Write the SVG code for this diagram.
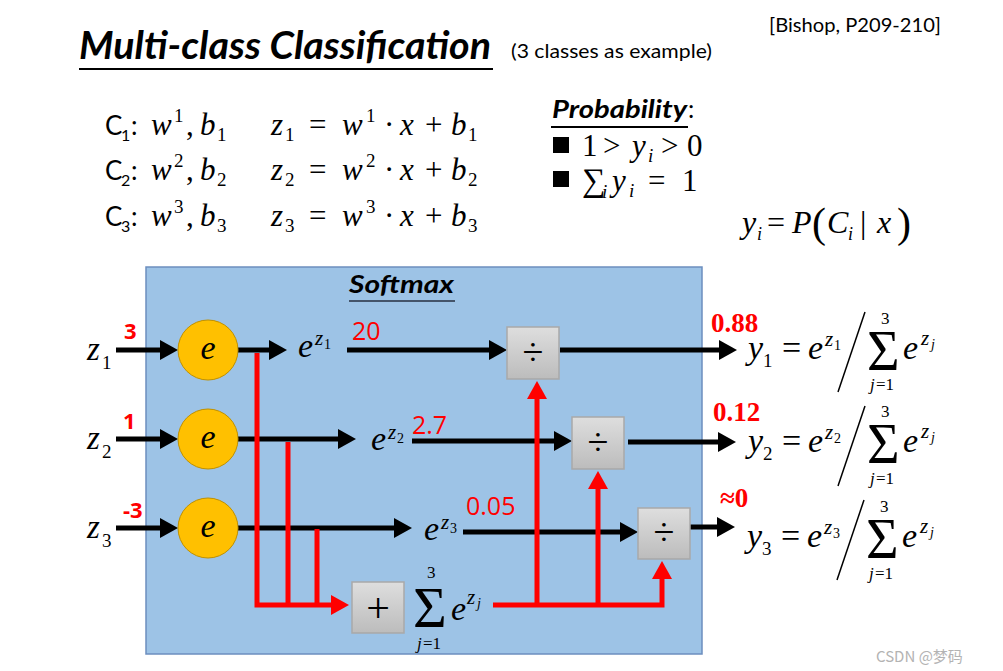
<svg xmlns="http://www.w3.org/2000/svg" width="1003" height="671" viewBox="0 0 1003 671">
<defs>
<style>
.blk{stroke:#000;stroke-width:5;fill:none}
.red{stroke:#f00;stroke-width:5;fill:none;stroke-linejoin:miter}
.ba{marker-end:url(#ab)}
.ra{marker-end:url(#ar)}
.circ{fill:#ffc000;stroke:#bf9000;stroke-width:1}
.box{fill:url(#gb);stroke:#a9a9a9;stroke-width:1.5}
.mi{font-family:"Liberation Serif","Times New Roman",serif;font-style:italic;fill:#000}
.mr{font-family:"Liberation Serif","Times New Roman",serif;font-style:normal;fill:#000}
.cal{font-family:Lato,"Open Sans",sans-serif;fill:#000}
.rn{font-family:"Open Sans",sans-serif;fill:#f00}
.rb{font-family:"Liberation Serif",serif;font-weight:bold;fill:#f00}
.sum{font-family:"Liberation Serif","DejaVu Serif",serif;fill:#000}
</style>
<marker id="ab" markerUnits="userSpaceOnUse" markerWidth="18" markerHeight="20" refX="4" refY="10" orient="auto"><path d="M0,0 L18,10 L0,20 z" fill="#000"/></marker>
<marker id="ar" markerUnits="userSpaceOnUse" markerWidth="18" markerHeight="20" refX="4" refY="10" orient="auto"><path d="M0,0 L18,10 L0,20 z" fill="#f00"/></marker>
<linearGradient id="gb" x1="0" y1="0" x2="0" y2="1"><stop offset="0" stop-color="#dedede"/><stop offset="1" stop-color="#bcbcbc"/></linearGradient>
</defs>
<rect width="1003" height="671" fill="#fff"/>

<!-- header -->
<g id="title">
<text class="cal" x="79" y="59" font-size="39" font-weight="bold" font-style="italic" textLength="412" lengthAdjust="spacingAndGlyphs">Multi-class Classification</text>
<line x1="79" y1="69" x2="493" y2="69" stroke="#000" stroke-width="2"/>
<text class="cal" x="511" y="58" font-size="19" textLength="201" lengthAdjust="spacingAndGlyphs">(3 classes as example)</text>
<text class="cal" x="769" y="32" font-size="19" textLength="172" lengthAdjust="spacingAndGlyphs">[Bishop, P209-210]</text>
</g>

<!-- class equations -->
<g id="equations" font-size="31">
<text class="cal" x="105" y="135" font-size="26">C</text><text class="cal" x="121" y="141" font-size="16">1</text><text class="cal" x="131" y="135" font-size="26">:</text>
<text class="mi" x="151" y="135">w</text><text class="mr" x="174" y="122" font-size="19">1</text><text class="mr" x="186" y="135">,</text><text class="mi" x="200" y="135">b</text><text class="mr" x="217" y="141" font-size="19">1</text>
<text class="mi" x="271" y="135">z</text><text class="mr" x="285" y="141" font-size="19">1</text><text class="mr" x="309" y="135">=</text><text class="mi" x="342" y="135">w</text><text class="mr" x="366" y="122" font-size="19">1</text><text class="mr" x="384" y="135">·</text><text class="mi" x="400" y="135">x</text><text class="mr" x="425" y="135">+</text><text class="mi" x="451" y="135">b</text><text class="mr" x="468" y="141" font-size="19">1</text>

<text class="cal" x="105" y="180" font-size="26">C</text><text class="cal" x="121" y="186" font-size="16">2</text><text class="cal" x="131" y="180" font-size="26">:</text>
<text class="mi" x="151" y="180">w</text><text class="mr" x="174" y="167" font-size="19">2</text><text class="mr" x="186" y="180">,</text><text class="mi" x="200" y="180">b</text><text class="mr" x="217" y="186" font-size="19">2</text>
<text class="mi" x="271" y="180">z</text><text class="mr" x="285" y="186" font-size="19">2</text><text class="mr" x="309" y="180">=</text><text class="mi" x="342" y="180">w</text><text class="mr" x="366" y="167" font-size="19">2</text><text class="mr" x="384" y="180">·</text><text class="mi" x="400" y="180">x</text><text class="mr" x="425" y="180">+</text><text class="mi" x="451" y="180">b</text><text class="mr" x="468" y="186" font-size="19">2</text>

<text class="cal" x="105" y="226" font-size="26">C</text><text class="cal" x="121" y="232" font-size="16">3</text><text class="cal" x="131" y="226" font-size="26">:</text>
<text class="mi" x="151" y="226">w</text><text class="mr" x="174" y="213" font-size="19">3</text><text class="mr" x="186" y="226">,</text><text class="mi" x="200" y="226">b</text><text class="mr" x="217" y="232" font-size="19">3</text>
<text class="mi" x="271" y="226">z</text><text class="mr" x="285" y="232" font-size="19">3</text><text class="mr" x="309" y="226">=</text><text class="mi" x="342" y="226">w</text><text class="mr" x="366" y="213" font-size="19">3</text><text class="mr" x="384" y="226">·</text><text class="mi" x="400" y="226">x</text><text class="mr" x="425" y="226">+</text><text class="mi" x="451" y="226">b</text><text class="mr" x="468" y="232" font-size="19">3</text>
</g>

<!-- probability -->
<g id="probability">
<text class="cal" x="552" y="118" font-size="25" font-weight="bold" font-style="italic" textLength="135" lengthAdjust="spacingAndGlyphs">Probability</text>
<text class="cal" x="688" y="118" font-size="25">:</text>
<line x1="551" y1="127" x2="688" y2="127" stroke="#000" stroke-width="2"/>
<rect x="553" y="137" width="16" height="16" fill="#000"/>
<text class="mr" font-size="31" y="156"><tspan x="582">1</tspan><tspan x="603">&gt;</tspan></text>
<text class="mi" x="632" y="156" font-size="31">y</text><text class="mi" x="648" y="162" font-size="19">i</text>
<text class="mr" font-size="31" y="156"><tspan x="661">&gt;</tspan><tspan x="687">0</tspan></text>
<rect x="553" y="171" width="16" height="16" fill="#000"/>
<text class="mr" x="582" y="191" font-size="33">∑</text><text class="mi" x="602" y="198" font-size="19">i</text>
<text class="mi" x="612" y="191" font-size="31">y</text><text class="mi" x="629" y="197" font-size="19">i</text>
<text class="mr" font-size="31" y="191"><tspan x="648">=</tspan><tspan x="682">1</tspan></text>
<text class="mi" x="742" y="233" font-size="32">y</text><text class="mi" x="757" y="240" font-size="18">i</text>
<text class="mr" x="767" y="233" font-size="32">=</text>
<text class="mi" x="792" y="233" font-size="32">P</text>
<text class="mr" x="812" y="237" font-size="42">(</text>
<text class="mi" x="827" y="233" font-size="32">C</text><text class="mi" x="848" y="240" font-size="18">i</text>
<text class="mr" x="860" y="233" font-size="32">|</text>
<text class="mi" x="877" y="233" font-size="32">x</text>
<text class="mr" x="897" y="237" font-size="42">)</text>
</g>

<!-- softmax container -->
<g id="softmax">
<rect x="146" y="267" width="556" height="387" fill="#9dc3e6" stroke="#6c8ebf" stroke-width="1.5"/>
<text class="cal" x="349" y="293" font-size="25" font-weight="bold" font-style="italic" textLength="105" lengthAdjust="spacingAndGlyphs">Softmax</text>
<line x1="349" y1="301" x2="455" y2="301" stroke="#44546a" stroke-width="2"/>
</g>

<!-- inputs -->
<g id="inputs">
<text class="mi" x="87" y="360" font-size="33">z</text><text class="mr" x="102" y="369" font-size="19">1</text>
<text class="mi" x="87" y="449" font-size="33">z</text><text class="mr" x="102" y="458" font-size="19">2</text>
<text class="mi" x="87" y="538" font-size="33">z</text><text class="mr" x="102" y="547" font-size="19">3</text>
<text class="rn" x="124" y="339" font-size="22" font-weight="bold">3</text>
<text class="rn" x="123" y="429" font-size="22" font-weight="bold">1</text>
<text class="rn" x="123" y="518" font-size="22" font-weight="bold">-3</text>
</g>

<!-- connectors -->
<g id="connectors">
<path class="blk ba" d="M116,350 H164"/>
<path class="blk ba" d="M116,439 H164"/>
<path class="blk ba" d="M116,528 H164"/>
<path class="blk ba" d="M238,350 H273"/>
<path class="blk ba" d="M238,439 H342"/>
<path class="blk ba" d="M238,528 H398"/>
<path class="blk ba" d="M347,350 H493"/>
<path class="blk ba" d="M412,441 H558"/>
<path class="blk ba" d="M463,532 H624"/>
<path class="blk ba" d="M560,350 H723"/>
<path class="blk ba" d="M628,442 H722"/>
<path class="blk ba" d="M690,527 H721"/>
<path class="red ra" d="M257,353 V605 H335"/>
<path class="red" d="M288,442 V605"/>
<path class="red" d="M317,529 V605"/>
<path class="red ra" d="M493,605 H662 V575"/>
<path class="red ra" d="M537,605 V395"/>
<path class="red ra" d="M598,605 V485"/>
</g>

<!-- exp nodes -->
<g id="exp1"><circle class="circ" cx="208" cy="350" r="30"/><text class="mi" x="208" y="359" font-size="34" text-anchor="middle">e</text></g>
<g id="exp2"><circle class="circ" cx="208" cy="439" r="30"/><text class="mi" x="208" y="448" font-size="34" text-anchor="middle">e</text></g>
<g id="exp3"><circle class="circ" cx="208" cy="528" r="30"/><text class="mi" x="208" y="537" font-size="34" text-anchor="middle">e</text></g>

<!-- exp labels -->
<g id="explabels">
<text class="mi" x="298" y="357" font-size="34">e</text><text class="mi" x="315" y="345" font-size="21">z</text><text class="mr" x="324" y="349" font-size="14">1</text>
<text class="mi" x="371" y="450" font-size="34">e</text><text class="mi" x="388" y="439" font-size="21">z</text><text class="mr" x="397" y="443" font-size="14">2</text>
<text class="mi" x="424" y="540" font-size="34">e</text><text class="mi" x="441" y="529" font-size="21">z</text><text class="mr" x="450" y="533" font-size="14">3</text>
<text class="rn" x="352" y="340" font-size="25">20</text>
<text class="rn" x="412" y="434" font-size="25">2.7</text>
<text class="rn" x="466" y="515" font-size="25">0.05</text>
</g>

<!-- divide nodes -->
<g id="div1"><rect class="box" x="507" y="327" width="52" height="52"/><text class="mr" x="533" y="365" font-size="38" text-anchor="middle">÷</text></g>
<g id="div2"><rect class="box" x="572" y="417" width="52" height="52"/><text class="mr" x="598" y="455" font-size="38" text-anchor="middle">÷</text></g>
<g id="div3"><rect class="box" x="638" y="508" width="52" height="51"/><text class="mr" x="664" y="545" font-size="38" text-anchor="middle">÷</text></g>

<!-- sum node -->
<g id="sum">
<rect class="box" x="352" y="582" width="52" height="51"/><text class="mr" x="378" y="622" font-size="42" text-anchor="middle">+</text>
<text class="sum" x="413" y="627" font-size="58">Σ</text>
<text class="mr" x="427" y="578" font-size="17">3</text>
<text class="mi" x="417" y="649" font-size="17">j</text><text class="mr" x="423" y="649" font-size="17">=1</text>
<text class="mi" x="451" y="620" font-size="34">e</text><text class="mi" x="467" y="604" font-size="21">z</text><text class="mi" x="477" y="608" font-size="14">j</text>
</g>

<!-- outputs -->
<g id="out1">
<text class="rb" x="711" y="332" font-size="27">0.88</text>
<text class="mi" x="748" y="359" font-size="34">y</text><text class="mr" x="763" y="367" font-size="19">1</text>
<text class="mr" x="782" y="359" font-size="34">=</text>
<text class="mi" x="808" y="359" font-size="34">e</text><text class="mi" x="825" y="346" font-size="21">z</text><text class="mr" x="834" y="350" font-size="14">1</text>
<line x1="838" y1="392" x2="865" y2="312" stroke="#000" stroke-width="1.5"/>
<text class="sum" x="867" y="370" font-size="56">Σ</text>
<text class="mr" x="881" y="324" font-size="17">3</text>
<text class="mi" x="870" y="390" font-size="17">j</text><text class="mr" x="876" y="390" font-size="17">=1</text>
<text class="mi" x="903" y="359" font-size="34">e</text><text class="mi" x="921" y="345" font-size="21">z</text><text class="mi" x="931" y="349" font-size="14">j</text>
</g>
<g id="out2">
<text class="rb" x="713" y="421" font-size="27">0.12</text>
<text class="mi" x="748" y="452" font-size="34">y</text><text class="mr" x="763" y="460" font-size="19">2</text>
<text class="mr" x="782" y="452" font-size="34">=</text>
<text class="mi" x="808" y="452" font-size="34">e</text><text class="mi" x="825" y="439" font-size="21">z</text><text class="mr" x="834" y="443" font-size="14">2</text>
<line x1="838" y1="486" x2="865" y2="406" stroke="#000" stroke-width="1.5"/>
<text class="sum" x="867" y="463" font-size="56">Σ</text>
<text class="mr" x="881" y="417" font-size="17">3</text>
<text class="mi" x="870" y="484" font-size="17">j</text><text class="mr" x="876" y="484" font-size="17">=1</text>
<text class="mi" x="903" y="452" font-size="34">e</text><text class="mi" x="921" y="438" font-size="21">z</text><text class="mi" x="931" y="442" font-size="14">j</text>
</g>
<g id="out3">
<text class="rb" x="720" y="507" font-size="27">≈0</text>
<text class="mi" x="747" y="547" font-size="34">y</text><text class="mr" x="762" y="555" font-size="19">3</text>
<text class="mr" x="781" y="547" font-size="34">=</text>
<text class="mi" x="807" y="547" font-size="34">e</text><text class="mi" x="824" y="534" font-size="21">z</text><text class="mr" x="833" y="538" font-size="14">3</text>
<line x1="837" y1="580" x2="864" y2="500" stroke="#000" stroke-width="1.5"/>
<text class="sum" x="866" y="558" font-size="56">Σ</text>
<text class="mr" x="880" y="512" font-size="17">3</text>
<text class="mi" x="869" y="579" font-size="17">j</text><text class="mr" x="875" y="579" font-size="17">=1</text>
<text class="mi" x="902" y="547" font-size="34">e</text><text class="mi" x="920" y="533" font-size="21">z</text><text class="mi" x="930" y="537" font-size="14">j</text>
</g>

<text x="876" y="662" font-family="'Noto Sans CJK SC',sans-serif" font-size="15" fill="#b3b3b3">CSDN @梦码</text>
</svg>
